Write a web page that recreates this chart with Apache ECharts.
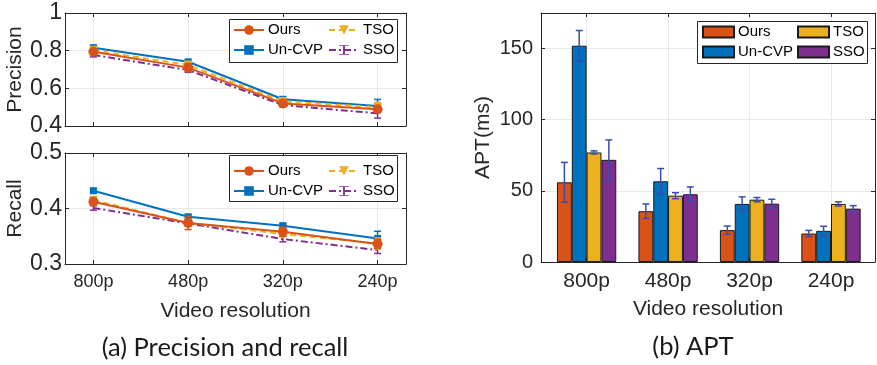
<!DOCTYPE html>
<html>
<head>
<meta charset="utf-8">
<script src="https://cdn.jsdelivr.net/npm/echarts@6/dist/echarts.min.js"></script>
<style>
  html, body { margin: 0; padding: 0; background: #fff; }
  #main { width: 877px; height: 365px; }
</style>
</head>
<body>
<div id="main"></div>
<script>
  // categories
  const resolutions = ['800p', '480p', '320p', '240p'];
  const methods = ['Ours', 'Un-CVP', 'TSO', 'SSO'];

  // precision (mean / error bar half length)
  const precOurs = [0.794, 0.710, 0.520, 0.489];
  const precUncvp = [0.816, 0.741, 0.542, 0.506];
  const precTso = [0.802, 0.724, 0.530, 0.500];
  const precSso = [0.777, 0.697, 0.511, 0.467];
  const precOursErr = [0.012, 0.020, 0.012, 0.015];
  const precUncvpErr = [0.010, 0.010, 0.010, 0.035];
  const precTsoErr = [0.010, 0.012, 0.010, 0.025];
  const precSsoErr = [0.010, 0.012, 0.010, 0.025];

  // recall
  const recOurs = [0.412, 0.374, 0.358, 0.336];
  const recUncvp = [0.432, 0.385, 0.369, 0.346];
  const recTso = [0.415, 0.374, 0.354, 0.337];
  const recSso = [0.401, 0.373, 0.345, 0.325];
  const recOursErr = [0.006, 0.012, 0.008, 0.008];
  const recUncvpErr = [0.004, 0.004, 0.004, 0.013];
  const recTsoErr = [0.005, 0.005, 0.005, 0.010];
  const recSsoErr = [0.004, 0.004, 0.005, 0.006];

  // APT (ms)
  const aptOurs = [56, 35.7, 22.4, 20];
  const aptUncvp = [152, 56.7, 40.8, 21.9];
  const aptTso = [77, 46.6, 43.8, 40.8];
  const aptSso = [71.8, 47.6, 41, 37.5];
  const aptOursErr = [14, 5.1, 2.9, 2.2];
  const aptUncvpErr = [10.7, 9, 5, 3.2];
  const aptTsoErr = [1.1, 2.1, 1.5, 1.5];
  const aptSsoErr = [14, 5.2, 3.1, 2.1];

  // tick labels
  const precTicks = [0.4, 0.6, 0.8, 1];
  const recTicks = [0.3, 0.4, 0.5];
  const aptTicks = [0, 50, 100, 150];

  const colors = ['#D95319', '#0072BD', '#EDB120', '#7E2F8E'];
  const font = 'Liberation Sans';
  const ink = '#262626';
  const BAR_FRAC = 0.182;
  const catIdx = [1, 2, 3, 4];
  // errorbar-like glyph for the SSO legend entry
  const ibeam = 'path://M0,0H8V1.6H4.8V18.4H8V20H0V18.4H3.2V1.6H0Z';

  let myChart = echarts.init(document.getElementById('main'));

  function pts(vals) {
    return vals.map((v, i) => [i + 1, v]);
  }

  // line style per method
  const lineCfg = [
    { symbol: 'circle', symbolSize: 10, type: 'solid', z: 8, show: true },
    { symbol: 'rect', symbolSize: 7, type: 'solid', z: 5, show: true },
    { symbol: 'triangle', symbolSize: 9, symbolRotate: 180, type: [6, 4], z: 6, show: true },
    { symbol: ibeam, symbolSize: 10, type: [7, 3, 2, 3], z: 4, show: false }
  ];

  function lineSeries(k, tag, vals, axis) {
    const c = lineCfg[k];
    return {
      name: methods[k] + '|' + tag,
      type: 'line',
      xAxisIndex: axis,
      yAxisIndex: axis,
      data: pts(vals),
      symbol: c.symbol,
      symbolSize: c.symbolSize,
      symbolRotate: c.symbolRotate || 0,
      showSymbol: c.show,
      z: c.z,
      color: colors[k],
      lineStyle: { width: 2, type: c.type, color: colors[k] },
      itemStyle: { color: colors[k] },
      emphasis: { disabled: true }
    };
  }

  function errorBars(vals, errs, axis, color, slot, z) {
    return {
      type: 'custom',
      xAxisIndex: axis,
      yAxisIndex: axis,
      z: z,
      encode: { x: 0, y: [1, 2] },
      data: vals.map((v, i) => [i + 1, v - errs[i], v + errs[i]]),
      renderItem: function (params, api) {
        const band = api.size([1, 0])[0];
        const dx = slot == null ? 0 : (slot - 1.5) * band * BAR_FRAC;
        const lo = api.coord([api.value(0), api.value(1)]);
        const hi = api.coord([api.value(0), api.value(2)]);
        const x = lo[0] + dx;
        const cap = 3.5;
        const style = { stroke: color, lineWidth: 1.5 };
        return {
          type: 'group',
          children: [
            { type: 'line', shape: { x1: x, y1: lo[1], x2: x, y2: hi[1] }, style: style },
            { type: 'line', shape: { x1: x - cap, y1: lo[1], x2: x + cap, y2: lo[1] }, style: style },
            { type: 'line', shape: { x1: x - cap, y1: hi[1], x2: x + cap, y2: hi[1] }, style: style }
          ]
        };
      }
    };
  }

  function barSeries(k, vals) {
    return {
      name: methods[k] + '|apt',
      type: 'bar',
      xAxisIndex: 2,
      yAxisIndex: 2,
      data: pts(vals),
      barWidth: (BAR_FRAC * 100) + '%',
      barGap: '0%',
      itemStyle: { color: colors[k], borderColor: '#1a1a1a', borderWidth: 1 },
      emphasis: { disabled: true }
    };
  }

  function bottomX(grid, min, max, labelSize, name) {
    return {
      type: 'value', gridIndex: grid, min: min, max: max, position: 'bottom',
      axisLine: { show: true, onZero: false, lineStyle: { color: ink, width: 1 } },
      axisTick: { show: true, inside: true, length: 4, customValues: catIdx, lineStyle: { color: ink } },
      axisLabel: {
        show: labelSize > 0, customValues: catIdx, margin: 9,
        formatter: v => resolutions[Math.round(v) - 1] || '',
        fontFamily: font, fontSize: labelSize || 12, color: ink
      },
      splitLine: { show: true, lineStyle: { color: '#e8e8e8', width: 1 } },
      name: name || '', nameLocation: 'middle', nameGap: 37,
      nameTextStyle: { fontFamily: font, fontSize: 21, color: ink }
    };
  }

  function topX(grid, min, max) {
    return {
      type: 'value', gridIndex: grid, min: min, max: max, position: 'top',
      axisLine: { show: true, onZero: false, lineStyle: { color: ink, width: 1 } },
      axisTick: { show: true, inside: true, length: 4, customValues: catIdx, lineStyle: { color: ink } },
      axisLabel: { show: false },
      splitLine: { show: false }
    };
  }

  function leftY(grid, ticks, max, name, gap, labelSize, margin) {
    return {
      type: 'value', gridIndex: grid, min: ticks[0], max: max, interval: ticks[1] - ticks[0],
      axisLine: { show: true, onZero: false, lineStyle: { color: ink, width: 1 } },
      axisTick: { show: true, inside: true, length: 4, lineStyle: { color: ink } },
      axisLabel: {
        margin: margin, fontFamily: font, fontSize: labelSize, color: ink,
        showMaxLabel: max === ticks[ticks.length - 1],
        formatter: v => String(Math.round(v * 100) / 100)
      },
      splitLine: { show: true, lineStyle: { color: '#e8e8e8', width: 1 } },
      name: name, nameLocation: 'middle', nameGap: gap,
      nameTextStyle: { fontFamily: font, fontSize: 21, color: ink }
    };
  }

  function rightY(grid, ticks, max) {
    return {
      type: 'value', gridIndex: grid, min: ticks[0], max: max, interval: ticks[1] - ticks[0],
      position: 'right',
      axisLine: { show: true, onZero: false, lineStyle: { color: ink, width: 1 } },
      axisTick: { show: true, inside: true, length: 4, lineStyle: { color: ink } },
      axisLabel: { show: false },
      splitLine: { show: false }
    };
  }

  function legendCol(names, left, top, bar) {
    return {
      data: names, left: left, top: top, orient: 'vertical', padding: 0,
      itemWidth: bar ? 31 : 30, itemHeight: bar ? 11 : 12, itemGap: 4,
      icon: bar ? 'rect' : undefined,
      selectedMode: false, z: 12,
      formatter: n => n.split('|')[0],
      textStyle: { fontFamily: font, fontSize: 15, color: '#000', lineHeight: 16, padding: [0, 0, 0, -1] }
    };
  }

  function legendBox(x, y, w, h) {
    return {
      type: 'rect', z: 10,
      shape: { x: x, y: y, width: w, height: h },
      style: { fill: '#fff', stroke: ink, lineWidth: 1 }
    };
  }

  const precVals = [precOurs, precUncvp, precTso, precSso];
  const precErrs = [precOursErr, precUncvpErr, precTsoErr, precSsoErr];
  const recVals = [recOurs, recUncvp, recTso, recSso];
  const recErrs = [recOursErr, recUncvpErr, recTsoErr, recSsoErr];
  const aptVals = [aptOurs, aptUncvp, aptTso, aptSso];
  const aptErrs = [aptOursErr, aptUncvpErr, aptTsoErr, aptSsoErr];

  const series = [];
  [3, 1, 2, 0].forEach(k => {
    series.push(errorBars(precVals[k], precErrs[k], 0, colors[k], null, lineCfg[k].z));
    series.push(lineSeries(k, 'p', precVals[k], 0));
    series.push(errorBars(recVals[k], recErrs[k], 1, colors[k], null, lineCfg[k].z));
    series.push(lineSeries(k, 'r', recVals[k], 1));
  });
  for (let k = 0; k < 4; k++) {
    series.push(barSeries(k, aptVals[k]));
  }
  for (let k = 0; k < 4; k++) {
    series.push(errorBars(aptVals[k], aptErrs[k], 2, '#3B4CB0', k, 6));
  }

  myChart.setOption({
    animation: false,
    backgroundColor: '#fff',
    grid: [
      { left: 65, top: 13, width: 341, height: 113, show: false },
      { left: 65, top: 153, width: 341, height: 111, show: false },
      { left: 541, top: 13, width: 334, height: 249, show: false }
    ],
    xAxis: [
      bottomX(0, 0.7, 4.3, 0),
      bottomX(1, 0.7, 4.3, 18, 'Video resolution'),
      bottomX(2, 0.44, 4.54, 21, 'Video resolution'),
      topX(0, 0.7, 4.3),
      topX(1, 0.7, 4.3),
      topX(2, 0.44, 4.54)
    ],
    yAxis: [
      leftY(0, precTicks, 1, 'Precision', 38, 23, 3),
      leftY(1, recTicks, 0.5, 'Recall', 38, 23, 3),
      leftY(2, aptTicks, 175, 'APT(ms)', 47, 20, 8),
      rightY(0, precTicks, 1),
      rightY(1, recTicks, 0.5),
      rightY(2, aptTicks, 175)
    ],
    legend: [
      legendCol(['Ours|p', 'Un-CVP|p'], 233, 22),
      legendCol(['TSO|p', 'SSO|p'], 328, 22),
      legendCol(['Ours|r', 'Un-CVP|r'], 233, 163),
      legendCol(['TSO|r', 'SSO|r'], 328, 163),
      legendCol(['Ours|apt', 'Un-CVP|apt'], 702, 24, true),
      legendCol(['TSO|apt', 'SSO|apt'], 797, 24, true)
    ],
    graphic: [
      legendBox(229.5, 19.5, 168, 43),
      legendBox(229.5, 155.5, 168, 46),
      legendBox(697.5, 21.5, 170, 42),
      {
        type: 'text', z: 10,
        x: 225, y: 348,
        style: { text: '(a) Precision and recall', align: 'center', verticalAlign: 'middle',
          font: '25.5px Lato', fill: '#1a1a1a' }
      },
      {
        type: 'text', z: 10,
        x: 693, y: 347,
        style: { text: '(b) APT', align: 'center', verticalAlign: 'middle',
          font: '25.5px Lato', fill: '#1a1a1a' }
      }
    ],
    series: series
  });

  window.addEventListener('resize', () => {
    myChart.resize();
  });
</script>
</body>
</html>
